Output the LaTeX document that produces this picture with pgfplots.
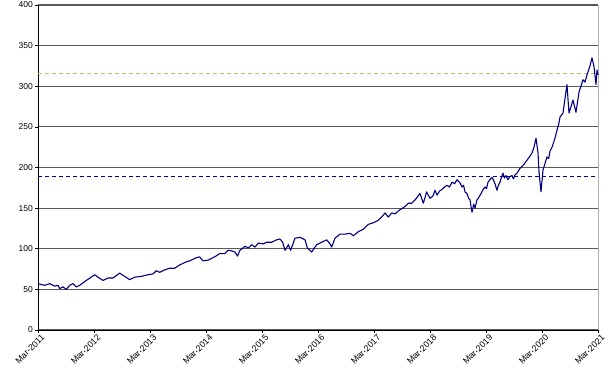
\documentclass[border=0pt]{standalone}
\usepackage{pgfplots}
\pgfplotsset{compat=1.18}
\usepackage{fontspec}
\setmainfont{Liberation Sans}
\definecolor{navyline}{RGB}{0,0,128}
\definecolor{khaki}{RGB}{196,188,100}
\begin{document}
\begin{tikzpicture}[x=1pt,y=1pt]
\useasboundingbox (0,0) rectangle (614,378);
\begin{axis}[
  at={(38pt,48pt)}, anchor=south west,
  scale only axis, width=560pt, height=325pt,
  xmin=0, xmax=10, ymin=0, ymax=400,
  xtick={0,1,...,10},
  xticklabels={Mar-2011,Mar-2012,Mar-2013,Mar-2014,Mar-2015,Mar-2016,Mar-2017,Mar-2018,Mar-2019,Mar-2020,Mar-2021},
  ytick={0,50,...,400},
  axis x line*=bottom, axis y line*=left,
  axis line style={black, line width=0.9pt, -},
  tick align=outside, major tick length=3pt,
  tick style={black, line width=0.7pt},
  ymajorgrids, grid style={black!65, line width=1.1pt},
  xticklabel style={font=\fontsize{8.8}{10}\selectfont, rotate=45, anchor=north east, inner sep=0.5pt, xshift=2pt, yshift=-2pt},
  yticklabel style={font=\fontsize{8.5}{10}\selectfont, inner sep=2pt},
  /pgf/number format/assume math mode=true,
  clip=false,
]
\draw[black!30, line width=0.8pt] (rel axis cs:1,0) -- (rel axis cs:1,1);
\addplot[khaki, line width=1pt, dash pattern=on 4pt off 3pt] coordinates {(0,316) (10,316)};
\addplot[navyline, line width=1pt, dash pattern=on 4pt off 3pt] coordinates {(0,189) (10,189)};
\addplot[navyline, line width=1.1pt, line join=round] table {
t v
0 57
0.119 55
0.208 57
0.298 54
0.357 55
0.387 51
0.446 53
0.506 50
0.565 55
0.625 57
0.685 53
0.744 55
0.863 61
1.012 68
1.071 65
1.161 61
1.25 64
1.339 64
1.458 70
1.548 66
1.637 62
1.726 65
1.845 66
1.964 68
2.054 69
2.113 73
2.173 71
2.262 74
2.351 76
2.440 76
2.530 80
2.619 83
2.738 86
2.827 89
2.887 90
2.946 85
3.036 86
3.155 90
3.244 94
3.333 94
3.393 98
3.429 98
3.518 96
3.560 91
3.607 98
3.696 103
3.756 101
3.815 105
3.875 102
3.935 107
4.024 106
4.083 108
4.173 108
4.262 111
4.321 112
4.369 108
4.411 98
4.470 105
4.512 98
4.589 113
4.679 114
4.768 111
4.810 101
4.887 96
4.976 105
5.066 108
5.155 111
5.214 106
5.244 102
5.304 113
5.393 118
5.482 118
5.571 119
5.631 116
5.720 121
5.810 124
5.899 130
5.988 132
6.077 135
6.137 139
6.196 144
6.256 139
6.315 144
6.375 143
6.464 148
6.554 152
6.613 156
6.673 156
6.732 160
6.821 168
6.881 156
6.940 170
7.0 162
7.054 165
7.09 172
7.125 166
7.17 171
7.214 173
7.26 176
7.304 178
7.35 176
7.393 182
7.44 180
7.482 185
7.51 183
7.536 181
7.571 176
7.60 178
7.625 170
7.661 168
7.69 162
7.714 160
7.75 145
7.78 155
7.804 150
7.839 160
7.87 163
7.911 168
7.94 172
7.982 176
8.01 174
8.036 182
8.07 185
8.107 188
8.13 185
8.161 180
8.196 172
8.22 178
8.25 182
8.28 189
8.304 193
8.33 187
8.357 190
8.393 185
8.43 189
8.464 190
8.49 186
8.518 191
8.554 193
8.607 199
8.64 201
8.679 204
8.732 209
8.786 214
8.821 218
8.857 225
8.893 236
8.929 218
8.946 195
8.982 170
9.018 197
9.054 205
9.089 213
9.12 211
9.143 220
9.179 225
9.232 236
9.268 246
9.304 255
9.321 262
9.375 267
9.411 285
9.446 302
9.482 267
9.518 275
9.554 283
9.607 268
9.661 293
9.696 300
9.732 308
9.768 305
9.804 314
9.857 325
9.893 335
9.929 324
9.964 302
9.982 320
10.0 314
};
\end{axis}
\end{tikzpicture}
\end{document}
